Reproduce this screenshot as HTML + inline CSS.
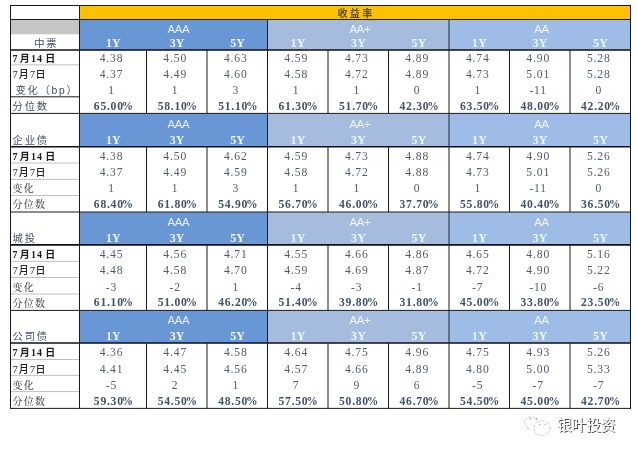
<!DOCTYPE html>
<html lang="zh-CN">
<head>
<meta charset="utf-8">
<title>收益率</title>
<style>
html,body{margin:0;padding:0;background:#fff;}
body{width:637px;height:454px;overflow:hidden;position:relative;}
svg{position:absolute;left:0;top:0;display:block;}
text{font-family:"Liberation Serif","Noto Serif CJK SC",serif;}
.num{font-size:11.6px;fill:#515b6b;text-anchor:middle;letter-spacing:0.85px;}
.pct{font-size:11.6px;fill:#435166;text-anchor:middle;font-weight:bold;letter-spacing:0.75px;}
.hy{font-size:12px;fill:#eaf7ff;text-anchor:middle;font-weight:bold;letter-spacing:0.15px;}
.grp{font-family:"Liberation Sans","Noto Sans CJK SC",sans-serif;font-weight:300;font-size:11.3px;fill:#fff;fill-opacity:0.84;text-anchor:middle;letter-spacing:-0.3px;}
.lab{font-family:"Liberation Sans","Noto Sans CJK SC",sans-serif;font-size:10.3px;font-weight:400;fill:#3f4f66;letter-spacing:1.75px;}
.lab2{font-family:"Liberation Serif","Noto Serif CJK SC",serif;font-size:10px;font-weight:500;fill:#474747;letter-spacing:1.2px;}
.d1{font-family:"Liberation Serif","Noto Sans CJK SC",serif;font-size:10px;fill:#1c1c1c;font-weight:bold;}
.d1 .c{font-size:10px;}
.d2 .c{font-size:10px;font-weight:500;}
.d2{font-family:"Liberation Serif","Noto Sans CJK SC",serif;font-size:10px;fill:#242424;}
.ttl{font-family:"Liberation Sans","Noto Sans CJK SC",sans-serif;font-size:10px;font-weight:bold;fill:#5c5028;text-anchor:middle;letter-spacing:2.4px;}
.wm{font-family:"Liberation Sans","Noto Sans CJK SC",sans-serif;font-size:14.6px;fill:#f4f4f4;}
</style>
</head>
<body>
<svg width="637" height="454" viewBox="0 0 637 454">
<rect x="0" y="0" width="637" height="454" fill="#fff"/>
<rect x="79.5" y="5.5" width="551.0" height="14.0" fill="#ffc000"/>
<rect x="10.5" y="19.5" width="69.0" height="14.8" fill="#c8c6c4"/>
<rect x="79.5" y="19.5" width="188.0" height="30.6" fill="#6996d5"/>
<rect x="267.5" y="19.5" width="181.5" height="30.6" fill="#a6bcde"/>
<rect x="449.0" y="19.5" width="181.5" height="30.6" fill="#9ebce6"/>
<rect x="79.5" y="113.4" width="188.0" height="33.4" fill="#6996d5"/>
<rect x="267.5" y="113.4" width="181.5" height="33.4" fill="#a6bcde"/>
<rect x="449.0" y="113.4" width="181.5" height="33.4" fill="#9ebce6"/>
<rect x="79.5" y="212.0" width="188.0" height="33.0" fill="#6996d5"/>
<rect x="267.5" y="212.0" width="181.5" height="33.0" fill="#a6bcde"/>
<rect x="449.0" y="212.0" width="181.5" height="33.0" fill="#9ebce6"/>
<rect x="79.5" y="310.4" width="188.0" height="32.7" fill="#6996d5"/>
<rect x="267.5" y="310.4" width="181.5" height="32.7" fill="#a6bcde"/>
<rect x="449.0" y="310.4" width="181.5" height="32.7" fill="#9ebce6"/>
<line x1="10.0" y1="5.5" x2="631.0" y2="5.5" stroke="#1a1a1a" stroke-width="1.00"/>
<line x1="10.0" y1="19.5" x2="631.0" y2="19.5" stroke="#1a1a1a" stroke-width="1.00"/>
<line x1="10.0" y1="50.0" x2="631.0" y2="50.0" stroke="#111" stroke-width="1.60"/>
<line x1="10.5" y1="64.9" x2="79.5" y2="64.9" stroke="#b9b9b9" stroke-width="0.90"/>
<line x1="10.5" y1="96.8" x2="79.5" y2="96.8" stroke="#1a1a1a" stroke-width="1.00"/>
<line x1="10.0" y1="113.4" x2="631.0" y2="113.4" stroke="#1a1a1a" stroke-width="1.00"/>
<line x1="10.0" y1="146.7" x2="631.0" y2="146.7" stroke="#111" stroke-width="1.60"/>
<line x1="10.5" y1="163.0" x2="79.5" y2="163.0" stroke="#b9b9b9" stroke-width="0.90"/>
<line x1="10.5" y1="179.4" x2="79.5" y2="179.4" stroke="#b9b9b9" stroke-width="0.90"/>
<line x1="10.5" y1="195.5" x2="79.5" y2="195.5" stroke="#b9b9b9" stroke-width="0.90"/>
<line x1="10.0" y1="212.0" x2="631.0" y2="212.0" stroke="#1a1a1a" stroke-width="1.00"/>
<line x1="10.0" y1="244.9" x2="631.0" y2="244.9" stroke="#111" stroke-width="1.60"/>
<line x1="10.5" y1="261.4" x2="79.5" y2="261.4" stroke="#b9b9b9" stroke-width="0.90"/>
<line x1="10.5" y1="277.5" x2="79.5" y2="277.5" stroke="#b9b9b9" stroke-width="0.90"/>
<line x1="10.5" y1="294.0" x2="79.5" y2="294.0" stroke="#b9b9b9" stroke-width="0.90"/>
<line x1="10.0" y1="310.4" x2="631.0" y2="310.4" stroke="#1a1a1a" stroke-width="1.00"/>
<line x1="10.0" y1="343.0" x2="631.0" y2="343.0" stroke="#111" stroke-width="1.60"/>
<line x1="10.5" y1="359.5" x2="79.5" y2="359.5" stroke="#b9b9b9" stroke-width="0.90"/>
<line x1="10.5" y1="375.4" x2="79.5" y2="375.4" stroke="#b9b9b9" stroke-width="0.90"/>
<line x1="10.5" y1="391.6" x2="79.5" y2="391.6" stroke="#b9b9b9" stroke-width="0.90"/>
<line x1="10.0" y1="408.4" x2="631.0" y2="408.4" stroke="#1a1a1a" stroke-width="1.00"/>
<line x1="10.5" y1="5.0" x2="10.5" y2="408.9" stroke="#1a1a1a" stroke-width="1.00"/>
<line x1="79.5" y1="5.0" x2="79.5" y2="408.9" stroke="#1a1a1a" stroke-width="1.00"/>
<line x1="630.5" y1="5.0" x2="630.5" y2="408.9" stroke="#1a1a1a" stroke-width="1.00"/>
<line x1="146.5" y1="50.1" x2="146.5" y2="113.4" stroke="#1a1a1a" stroke-width="1.00"/>
<line x1="207.0" y1="50.1" x2="207.0" y2="113.4" stroke="#1a1a1a" stroke-width="1.00"/>
<line x1="267.5" y1="50.1" x2="267.5" y2="113.4" stroke="#1a1a1a" stroke-width="1.00"/>
<line x1="328.0" y1="50.1" x2="328.0" y2="113.4" stroke="#1a1a1a" stroke-width="1.00"/>
<line x1="388.5" y1="50.1" x2="388.5" y2="113.4" stroke="#1a1a1a" stroke-width="1.00"/>
<line x1="449.0" y1="50.1" x2="449.0" y2="113.4" stroke="#1a1a1a" stroke-width="1.00"/>
<line x1="509.5" y1="50.1" x2="509.5" y2="113.4" stroke="#1a1a1a" stroke-width="1.00"/>
<line x1="570.0" y1="50.1" x2="570.0" y2="113.4" stroke="#1a1a1a" stroke-width="1.00"/>
<line x1="267.5" y1="19.5" x2="267.5" y2="50.1" stroke="#0e2442" stroke-width="1.00"/>
<line x1="449.0" y1="19.5" x2="449.0" y2="50.1" stroke="#1c2738" stroke-width="1.00"/>
<line x1="146.5" y1="146.8" x2="146.5" y2="212.0" stroke="#1a1a1a" stroke-width="1.00"/>
<line x1="207.0" y1="146.8" x2="207.0" y2="212.0" stroke="#1a1a1a" stroke-width="1.00"/>
<line x1="267.5" y1="146.8" x2="267.5" y2="212.0" stroke="#1a1a1a" stroke-width="1.00"/>
<line x1="328.0" y1="146.8" x2="328.0" y2="212.0" stroke="#1a1a1a" stroke-width="1.00"/>
<line x1="388.5" y1="146.8" x2="388.5" y2="212.0" stroke="#1a1a1a" stroke-width="1.00"/>
<line x1="449.0" y1="146.8" x2="449.0" y2="212.0" stroke="#1a1a1a" stroke-width="1.00"/>
<line x1="509.5" y1="146.8" x2="509.5" y2="212.0" stroke="#1a1a1a" stroke-width="1.00"/>
<line x1="570.0" y1="146.8" x2="570.0" y2="212.0" stroke="#1a1a1a" stroke-width="1.00"/>
<line x1="267.5" y1="113.4" x2="267.5" y2="146.8" stroke="#0e2442" stroke-width="1.00"/>
<line x1="449.0" y1="113.4" x2="449.0" y2="146.8" stroke="#1c2738" stroke-width="1.00"/>
<line x1="146.5" y1="245.0" x2="146.5" y2="310.4" stroke="#1a1a1a" stroke-width="1.00"/>
<line x1="207.0" y1="245.0" x2="207.0" y2="310.4" stroke="#1a1a1a" stroke-width="1.00"/>
<line x1="267.5" y1="245.0" x2="267.5" y2="310.4" stroke="#1a1a1a" stroke-width="1.00"/>
<line x1="328.0" y1="245.0" x2="328.0" y2="310.4" stroke="#1a1a1a" stroke-width="1.00"/>
<line x1="388.5" y1="245.0" x2="388.5" y2="310.4" stroke="#1a1a1a" stroke-width="1.00"/>
<line x1="449.0" y1="245.0" x2="449.0" y2="310.4" stroke="#1a1a1a" stroke-width="1.00"/>
<line x1="509.5" y1="245.0" x2="509.5" y2="310.4" stroke="#1a1a1a" stroke-width="1.00"/>
<line x1="570.0" y1="245.0" x2="570.0" y2="310.4" stroke="#1a1a1a" stroke-width="1.00"/>
<line x1="267.5" y1="212.0" x2="267.5" y2="245.0" stroke="#0e2442" stroke-width="1.00"/>
<line x1="449.0" y1="212.0" x2="449.0" y2="245.0" stroke="#1c2738" stroke-width="1.00"/>
<line x1="146.5" y1="343.1" x2="146.5" y2="408.4" stroke="#1a1a1a" stroke-width="1.00"/>
<line x1="207.0" y1="343.1" x2="207.0" y2="408.4" stroke="#1a1a1a" stroke-width="1.00"/>
<line x1="267.5" y1="343.1" x2="267.5" y2="408.4" stroke="#1a1a1a" stroke-width="1.00"/>
<line x1="328.0" y1="343.1" x2="328.0" y2="408.4" stroke="#1a1a1a" stroke-width="1.00"/>
<line x1="388.5" y1="343.1" x2="388.5" y2="408.4" stroke="#1a1a1a" stroke-width="1.00"/>
<line x1="449.0" y1="343.1" x2="449.0" y2="408.4" stroke="#1a1a1a" stroke-width="1.00"/>
<line x1="509.5" y1="343.1" x2="509.5" y2="408.4" stroke="#1a1a1a" stroke-width="1.00"/>
<line x1="570.0" y1="343.1" x2="570.0" y2="408.4" stroke="#1a1a1a" stroke-width="1.00"/>
<line x1="267.5" y1="310.4" x2="267.5" y2="343.1" stroke="#0e2442" stroke-width="1.00"/>
<line x1="449.0" y1="310.4" x2="449.0" y2="343.1" stroke="#1c2738" stroke-width="1.00"/>
<text class="ttl" x="356.0" y="16.6">收益率</text>
<text class="lab" x="46.2" y="46.6" text-anchor="middle">中票</text>
<text class="grp" x="178.3" y="33.3">AAA</text>
<text class="grp" x="359.9" y="33.3">AA+</text>
<text class="grp" x="541.4" y="33.3">AA</text>
<text class="hy" x="113.4" y="46.8">1Y</text>
<text class="hy" x="177.2" y="46.8">3Y</text>
<text class="hy" x="237.7" y="46.8">5Y</text>
<text class="hy" x="298.1" y="46.8">1Y</text>
<text class="hy" x="358.6" y="46.8">3Y</text>
<text class="hy" x="419.1" y="46.8">5Y</text>
<text class="hy" x="479.6" y="46.8">1Y</text>
<text class="hy" x="540.1" y="46.8">3Y</text>
<text class="hy" x="600.6" y="46.8">5Y</text>
<text class="d1" x="12.6 19.8 31.0 37.0 45.2" y="62.0">7<tspan class="c">月</tspan>14<tspan class="c">日</tspan></text>
<text class="num" x="111.5" y="61.8">4.38</text>
<text class="num" x="175.2" y="61.8">4.50</text>
<text class="num" x="235.8" y="61.8">4.63</text>
<text class="num" x="296.2" y="61.8">4.59</text>
<text class="num" x="356.8" y="61.8">4.73</text>
<text class="num" x="417.2" y="61.8">4.89</text>
<text class="num" x="477.8" y="61.8">4.74</text>
<text class="num" x="538.2" y="61.8">4.90</text>
<text class="num" x="598.8" y="61.8">5.28</text>
<text class="d2" x="12.7 18.8 29.9 35.6" y="78.1">7<tspan class="c">月</tspan>7<tspan class="c">日</tspan></text>
<text class="num" x="111.5" y="78.0">4.37</text>
<text class="num" x="175.2" y="78.0">4.49</text>
<text class="num" x="235.8" y="78.0">4.60</text>
<text class="num" x="296.2" y="78.0">4.58</text>
<text class="num" x="356.8" y="78.0">4.72</text>
<text class="num" x="417.2" y="78.0">4.89</text>
<text class="num" x="477.8" y="78.0">4.73</text>
<text class="num" x="538.2" y="78.0">5.01</text>
<text class="num" x="598.8" y="78.0">5.28</text>
<text class="lab" x="47.0" y="94.3" text-anchor="middle">变化（bp）</text>
<text class="num" x="111.5" y="94.0">1</text>
<text class="num" x="175.2" y="94.0">1</text>
<text class="num" x="235.8" y="94.0">3</text>
<text class="num" x="296.2" y="94.0">1</text>
<text class="num" x="356.8" y="94.0">1</text>
<text class="num" x="417.2" y="94.0">0</text>
<text class="num" x="477.8" y="94.0">1</text>
<text class="num" x="538.2" y="94.0">-11</text>
<text class="num" x="598.8" y="94.0">0</text>
<text class="lab" x="12.6" y="110.3">分位数</text>
<text class="pct" x="113.9" y="110.0">65.00<tspan dx="-2.1">%</tspan></text>
<text class="pct" x="177.7" y="110.0">58.10<tspan dx="-2.1">%</tspan></text>
<text class="pct" x="238.2" y="110.0">51.10<tspan dx="-2.1">%</tspan></text>
<text class="pct" x="298.6" y="110.0">61.30<tspan dx="-2.1">%</tspan></text>
<text class="pct" x="359.1" y="110.0">51.70<tspan dx="-2.1">%</tspan></text>
<text class="pct" x="419.6" y="110.0">42.30<tspan dx="-2.1">%</tspan></text>
<text class="pct" x="480.1" y="110.0">63.50<tspan dx="-2.1">%</tspan></text>
<text class="pct" x="540.6" y="110.0">48.00<tspan dx="-2.1">%</tspan></text>
<text class="pct" x="601.1" y="110.0">42.20<tspan dx="-2.1">%</tspan></text>
<text class="lab" x="12.6" y="143.8">企业债</text>
<text class="grp" x="178.3" y="128.2">AAA</text>
<text class="grp" x="359.9" y="128.2">AA+</text>
<text class="grp" x="541.4" y="128.2">AA</text>
<text class="hy" x="113.4" y="143.6">1Y</text>
<text class="hy" x="177.2" y="143.6">3Y</text>
<text class="hy" x="237.7" y="143.6">5Y</text>
<text class="hy" x="298.1" y="143.6">1Y</text>
<text class="hy" x="358.6" y="143.6">3Y</text>
<text class="hy" x="419.1" y="143.6">5Y</text>
<text class="hy" x="479.6" y="143.6">1Y</text>
<text class="hy" x="540.1" y="143.6">3Y</text>
<text class="hy" x="600.6" y="143.6">5Y</text>
<text class="d1" x="12.6 19.8 31.0 37.0 45.2" y="160.1">7<tspan class="c">月</tspan>14<tspan class="c">日</tspan></text>
<text class="num" x="111.5" y="160.3">4.38</text>
<text class="num" x="175.2" y="160.3">4.50</text>
<text class="num" x="235.8" y="160.3">4.62</text>
<text class="num" x="296.2" y="160.3">4.59</text>
<text class="num" x="356.8" y="160.3">4.73</text>
<text class="num" x="417.2" y="160.3">4.88</text>
<text class="num" x="477.8" y="160.3">4.74</text>
<text class="num" x="538.2" y="160.3">4.90</text>
<text class="num" x="598.8" y="160.3">5.26</text>
<text class="d2" x="12.7 18.8 29.9 35.6" y="176.1">7<tspan class="c">月</tspan>7<tspan class="c">日</tspan></text>
<text class="num" x="111.5" y="176.0">4.37</text>
<text class="num" x="175.2" y="176.0">4.49</text>
<text class="num" x="235.8" y="176.0">4.59</text>
<text class="num" x="296.2" y="176.0">4.58</text>
<text class="num" x="356.8" y="176.0">4.72</text>
<text class="num" x="417.2" y="176.0">4.88</text>
<text class="num" x="477.8" y="176.0">4.73</text>
<text class="num" x="538.2" y="176.0">5.01</text>
<text class="num" x="598.8" y="176.0">5.26</text>
<text class="lab2" x="12.5" y="192.3">变化</text>
<text class="num" x="111.5" y="192.0">1</text>
<text class="num" x="175.2" y="192.0">1</text>
<text class="num" x="235.8" y="192.0">3</text>
<text class="num" x="296.2" y="192.0">1</text>
<text class="num" x="356.8" y="192.0">1</text>
<text class="num" x="417.2" y="192.0">0</text>
<text class="num" x="477.8" y="192.0">1</text>
<text class="num" x="538.2" y="192.0">-11</text>
<text class="num" x="598.8" y="192.0">0</text>
<text class="lab2" x="12.5" y="208.1">分位数</text>
<text class="pct" x="113.9" y="207.8">68.40<tspan dx="-2.1">%</tspan></text>
<text class="pct" x="177.7" y="207.8">61.80<tspan dx="-2.1">%</tspan></text>
<text class="pct" x="238.2" y="207.8">54.90<tspan dx="-2.1">%</tspan></text>
<text class="pct" x="298.6" y="207.8">56.70<tspan dx="-2.1">%</tspan></text>
<text class="pct" x="359.1" y="207.8">46.00<tspan dx="-2.1">%</tspan></text>
<text class="pct" x="419.6" y="207.8">37.70<tspan dx="-2.1">%</tspan></text>
<text class="pct" x="480.1" y="207.8">55.80<tspan dx="-2.1">%</tspan></text>
<text class="pct" x="540.6" y="207.8">40.40<tspan dx="-2.1">%</tspan></text>
<text class="pct" x="601.1" y="207.8">36.50<tspan dx="-2.1">%</tspan></text>
<text class="lab" x="12.6" y="242.0">城投</text>
<text class="grp" x="178.3" y="226.2">AAA</text>
<text class="grp" x="359.9" y="226.2">AA+</text>
<text class="grp" x="541.4" y="226.2">AA</text>
<text class="hy" x="113.4" y="241.8">1Y</text>
<text class="hy" x="177.2" y="241.8">3Y</text>
<text class="hy" x="237.7" y="241.8">5Y</text>
<text class="hy" x="298.1" y="241.8">1Y</text>
<text class="hy" x="358.6" y="241.8">3Y</text>
<text class="hy" x="419.1" y="241.8">5Y</text>
<text class="hy" x="479.6" y="241.8">1Y</text>
<text class="hy" x="540.1" y="241.8">3Y</text>
<text class="hy" x="600.6" y="241.8">5Y</text>
<text class="d1" x="12.6 19.8 31.0 37.0 45.2" y="258.1">7<tspan class="c">月</tspan>14<tspan class="c">日</tspan></text>
<text class="num" x="111.5" y="258.3">4.45</text>
<text class="num" x="175.2" y="258.3">4.56</text>
<text class="num" x="235.8" y="258.3">4.71</text>
<text class="num" x="296.2" y="258.3">4.55</text>
<text class="num" x="356.8" y="258.3">4.66</text>
<text class="num" x="417.2" y="258.3">4.86</text>
<text class="num" x="477.8" y="258.3">4.65</text>
<text class="num" x="538.2" y="258.3">4.80</text>
<text class="num" x="598.8" y="258.3">5.16</text>
<text class="d2" x="12.7 18.8 29.9 35.6" y="274.4">7<tspan class="c">月</tspan>7<tspan class="c">日</tspan></text>
<text class="num" x="111.5" y="274.3">4.48</text>
<text class="num" x="175.2" y="274.3">4.58</text>
<text class="num" x="235.8" y="274.3">4.70</text>
<text class="num" x="296.2" y="274.3">4.59</text>
<text class="num" x="356.8" y="274.3">4.69</text>
<text class="num" x="417.2" y="274.3">4.87</text>
<text class="num" x="477.8" y="274.3">4.72</text>
<text class="num" x="538.2" y="274.3">4.90</text>
<text class="num" x="598.8" y="274.3">5.22</text>
<text class="lab2" x="12.5" y="290.8">变化</text>
<text class="num" x="111.5" y="290.5">-3</text>
<text class="num" x="175.2" y="290.5">-2</text>
<text class="num" x="235.8" y="290.5">1</text>
<text class="num" x="296.2" y="290.5">-4</text>
<text class="num" x="356.8" y="290.5">-3</text>
<text class="num" x="417.2" y="290.5">-1</text>
<text class="num" x="477.8" y="290.5">-7</text>
<text class="num" x="538.2" y="290.5">-10</text>
<text class="num" x="598.8" y="290.5">-6</text>
<text class="lab2" x="12.5" y="306.5">分位数</text>
<text class="pct" x="113.9" y="306.2">61.10<tspan dx="-2.1">%</tspan></text>
<text class="pct" x="177.7" y="306.2">51.00<tspan dx="-2.1">%</tspan></text>
<text class="pct" x="238.2" y="306.2">46.20<tspan dx="-2.1">%</tspan></text>
<text class="pct" x="298.6" y="306.2">51.40<tspan dx="-2.1">%</tspan></text>
<text class="pct" x="359.1" y="306.2">39.80<tspan dx="-2.1">%</tspan></text>
<text class="pct" x="419.6" y="306.2">31.80<tspan dx="-2.1">%</tspan></text>
<text class="pct" x="480.1" y="306.2">45.00<tspan dx="-2.1">%</tspan></text>
<text class="pct" x="540.6" y="306.2">33.80<tspan dx="-2.1">%</tspan></text>
<text class="pct" x="601.1" y="306.2">23.50<tspan dx="-2.1">%</tspan></text>
<text class="lab" x="12.6" y="340.2">公司债</text>
<text class="grp" x="178.3" y="324.2">AAA</text>
<text class="grp" x="359.9" y="324.2">AA+</text>
<text class="grp" x="541.4" y="324.2">AA</text>
<text class="hy" x="113.4" y="340.0">1Y</text>
<text class="hy" x="177.2" y="340.0">3Y</text>
<text class="hy" x="237.7" y="340.0">5Y</text>
<text class="hy" x="298.1" y="340.0">1Y</text>
<text class="hy" x="358.6" y="340.0">3Y</text>
<text class="hy" x="419.1" y="340.0">5Y</text>
<text class="hy" x="479.6" y="340.0">1Y</text>
<text class="hy" x="540.1" y="340.0">3Y</text>
<text class="hy" x="600.6" y="340.0">5Y</text>
<text class="d1" x="12.6 19.8 31.0 37.0 45.2" y="356.4">7<tspan class="c">月</tspan>14<tspan class="c">日</tspan></text>
<text class="num" x="111.5" y="356.0">4.36</text>
<text class="num" x="175.2" y="356.0">4.47</text>
<text class="num" x="235.8" y="356.0">4.58</text>
<text class="num" x="296.2" y="356.0">4.64</text>
<text class="num" x="356.8" y="356.0">4.75</text>
<text class="num" x="417.2" y="356.0">4.96</text>
<text class="num" x="477.8" y="356.0">4.75</text>
<text class="num" x="538.2" y="356.0">4.93</text>
<text class="num" x="598.8" y="356.0">5.26</text>
<text class="d2" x="12.7 18.8 29.9 35.6" y="372.9">7<tspan class="c">月</tspan>7<tspan class="c">日</tspan></text>
<text class="num" x="111.5" y="372.8">4.41</text>
<text class="num" x="175.2" y="372.8">4.45</text>
<text class="num" x="235.8" y="372.8">4.56</text>
<text class="num" x="296.2" y="372.8">4.57</text>
<text class="num" x="356.8" y="372.8">4.66</text>
<text class="num" x="417.2" y="372.8">4.89</text>
<text class="num" x="477.8" y="372.8">4.80</text>
<text class="num" x="538.2" y="372.8">5.00</text>
<text class="num" x="598.8" y="372.8">5.33</text>
<text class="lab2" x="12.5" y="389.1">变化</text>
<text class="num" x="111.5" y="388.8">-5</text>
<text class="num" x="175.2" y="388.8">2</text>
<text class="num" x="235.8" y="388.8">1</text>
<text class="num" x="296.2" y="388.8">7</text>
<text class="num" x="356.8" y="388.8">9</text>
<text class="num" x="417.2" y="388.8">6</text>
<text class="num" x="477.8" y="388.8">-5</text>
<text class="num" x="538.2" y="388.8">-7</text>
<text class="num" x="598.8" y="388.8">-7</text>
<text class="lab2" x="12.5" y="405.3">分位数</text>
<text class="pct" x="113.9" y="405.0">59.30<tspan dx="-2.1">%</tspan></text>
<text class="pct" x="177.7" y="405.0">54.50<tspan dx="-2.1">%</tspan></text>
<text class="pct" x="238.2" y="405.0">48.50<tspan dx="-2.1">%</tspan></text>
<text class="pct" x="298.6" y="405.0">57.50<tspan dx="-2.1">%</tspan></text>
<text class="pct" x="359.1" y="405.0">50.80<tspan dx="-2.1">%</tspan></text>
<text class="pct" x="419.6" y="405.0">46.70<tspan dx="-2.1">%</tspan></text>
<text class="pct" x="480.1" y="405.0">54.50<tspan dx="-2.1">%</tspan></text>
<text class="pct" x="540.6" y="405.0">45.00<tspan dx="-2.1">%</tspan></text>
<text class="pct" x="601.1" y="405.0">42.70<tspan dx="-2.1">%</tspan></text>
<defs><filter id="ws" x="-10%" y="-20%" width="120%" height="140%"><feGaussianBlur in="SourceAlpha" stdDeviation="0.55" result="b"/><feOffset in="b" dx="0.5" dy="0.6" result="o"/><feFlood flood-color="#000" flood-opacity="0.7"/><feComposite in2="o" operator="in" result="s"/><feMerge><feMergeNode in="s"/><feMergeNode in="SourceGraphic"/></feMerge></filter></defs>
<g fill="none" stroke="#a2a2a2" stroke-width="0.8" stroke-dasharray="1.1 1.5">
<path d="M527.6 427.4a6.4 5.6 0 1 1 9.6-5.6"/>
<path d="M527.8 427.0l-1.6 2.6 3.6-1.2"/>
<ellipse cx="542.0" cy="428.1" rx="8.0" ry="7.3"/>
</g>
<g fill="#9a9a9a"><circle cx="530.2" cy="418.8" r="0.7"/><circle cx="536.6" cy="418.8" r="0.7"/><circle cx="539.6" cy="424.6" r="0.7"/><circle cx="545.0" cy="424.6" r="0.7"/></g>
<text class="wm" x="557.0" y="430.4" filter="url(#ws)">银叶投资</text>
</svg>
</body>
</html>
